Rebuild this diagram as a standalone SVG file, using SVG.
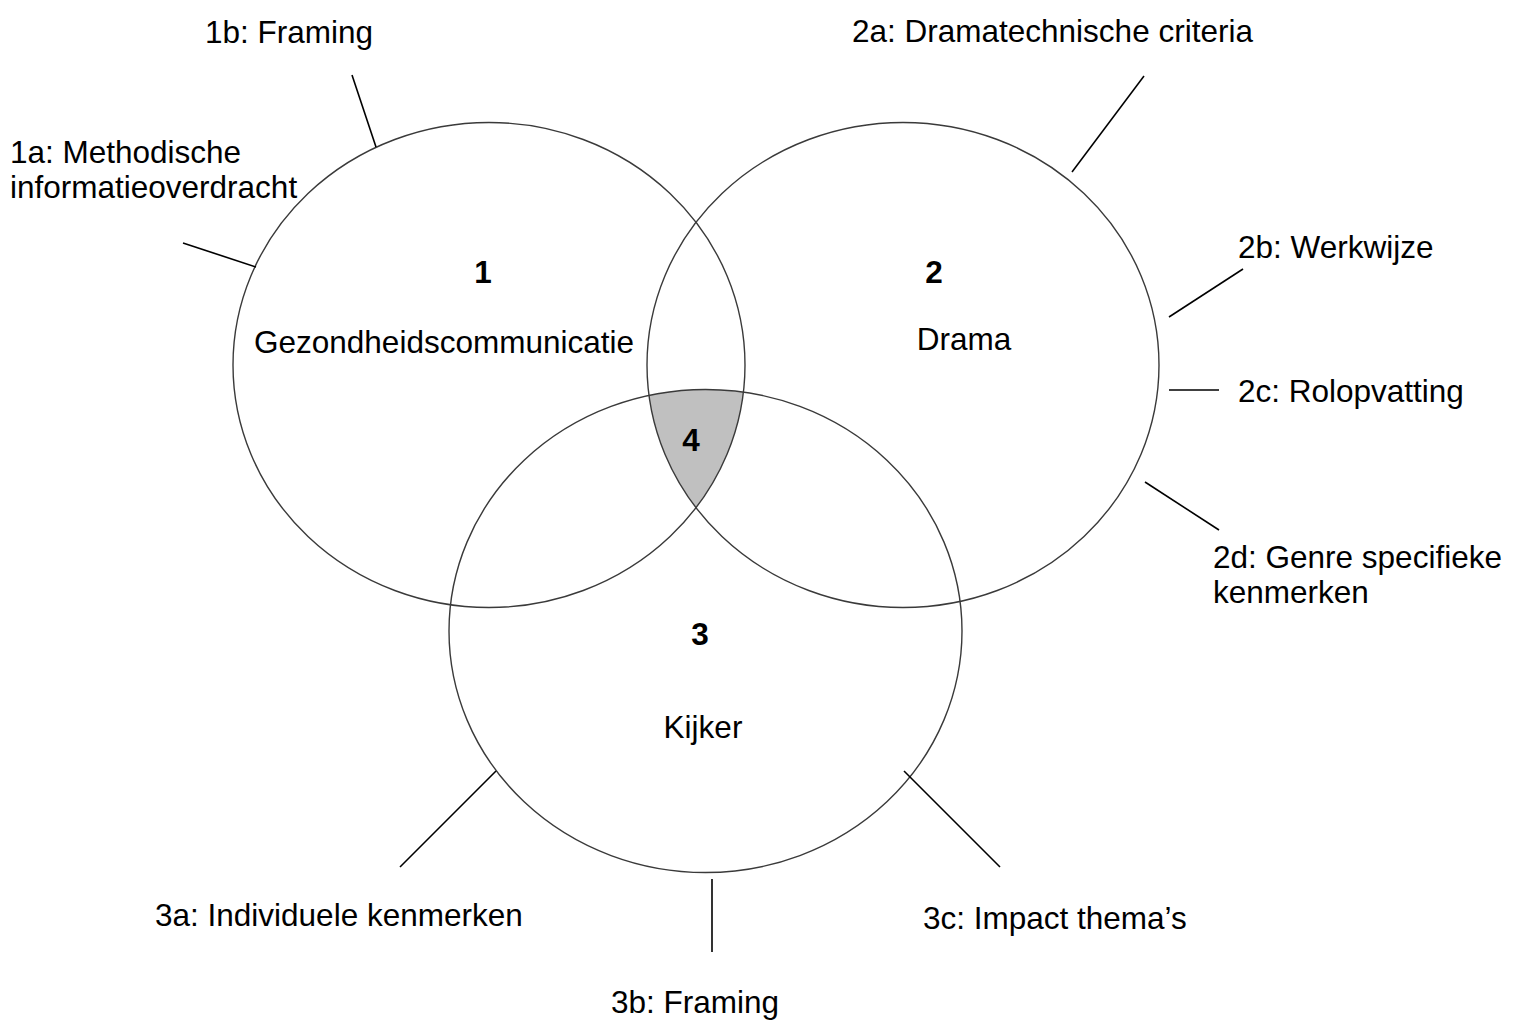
<svg xmlns="http://www.w3.org/2000/svg" width="1520" height="1021" viewBox="0 0 1520 1021">
<style>
text{font-family:"Liberation Sans",Arial,sans-serif;font-size:31.5px;fill:#000}
.b{font-weight:bold}
.c{fill:none;stroke:#3a3a3a;stroke-width:1.4}
.l{stroke:#000;stroke-width:1.6;fill:none}
</style>
<defs>
<clipPath id="k1"><ellipse cx="489" cy="365" rx="256" ry="242.5"/></clipPath>
<clipPath id="k2"><ellipse cx="903" cy="365" rx="256" ry="242.5"/></clipPath>
</defs>
<rect width="1520" height="1021" fill="#fff"/>
<g id="region4" clip-path="url(#k1)">
<ellipse cx="705.5" cy="631" rx="256.5" ry="241.5" fill="#c0c0c0" clip-path="url(#k2)"/>
</g>
<g id="node1">
<ellipse class="c" cx="489" cy="365" rx="256" ry="242.5"/>
<text class="b" x="483" y="283" text-anchor="middle">1</text>
<text x="444" y="353" text-anchor="middle">Gezondheidscommunicatie</text>
</g>
<g id="node2">
<ellipse class="c" cx="903" cy="365" rx="256" ry="242.5"/>
<text class="b" x="934" y="283" text-anchor="middle">2</text>
<text x="964" y="350" text-anchor="middle">Drama</text>
</g>
<g id="node3">
<ellipse class="c" cx="705.5" cy="631" rx="256.5" ry="241.5"/>
<text class="b" x="700" y="645" text-anchor="middle">3</text>
<text x="703" y="738" text-anchor="middle">Kijker</text>
</g>
<g id="node4">
<text class="b" x="691" y="451" text-anchor="middle">4</text>
</g>
<g id="connectors">
<line class="l" x1="352" y1="75" x2="376" y2="147"/>
<line class="l" x1="183" y1="243" x2="256" y2="267"/>
<line class="l" x1="1144" y1="76" x2="1072" y2="172"/>
<line class="l" x1="1243" y1="269" x2="1169" y2="317"/>
<line class="l" x1="1169" y1="390" x2="1219" y2="390"/>
<line class="l" x1="1145" y1="482" x2="1219" y2="530"/>
<line class="l" x1="496" y1="771" x2="400" y2="867"/>
<line class="l" x1="712" y1="879" x2="712" y2="952"/>
<line class="l" x1="904" y1="771" x2="1000" y2="867"/>
</g>
<g id="labels">
<text x="205" y="43">1b: Framing</text>
<text x="10" y="163">1a: Methodische</text>
<text x="10" y="198">informatieoverdracht</text>
<text x="852" y="42">2a: Dramatechnische criteria</text>
<text x="1238" y="258">2b: Werkwijze</text>
<text x="1238" y="402">2c: Rolopvatting</text>
<text x="1213" y="568">2d: Genre specifieke</text>
<text x="1213" y="603">kenmerken</text>
<text x="155" y="926">3a: Individuele kenmerken</text>
<text x="611" y="1013">3b: Framing</text>
<text x="923" y="929">3c: Impact thema’s</text>
</g>
</svg>
